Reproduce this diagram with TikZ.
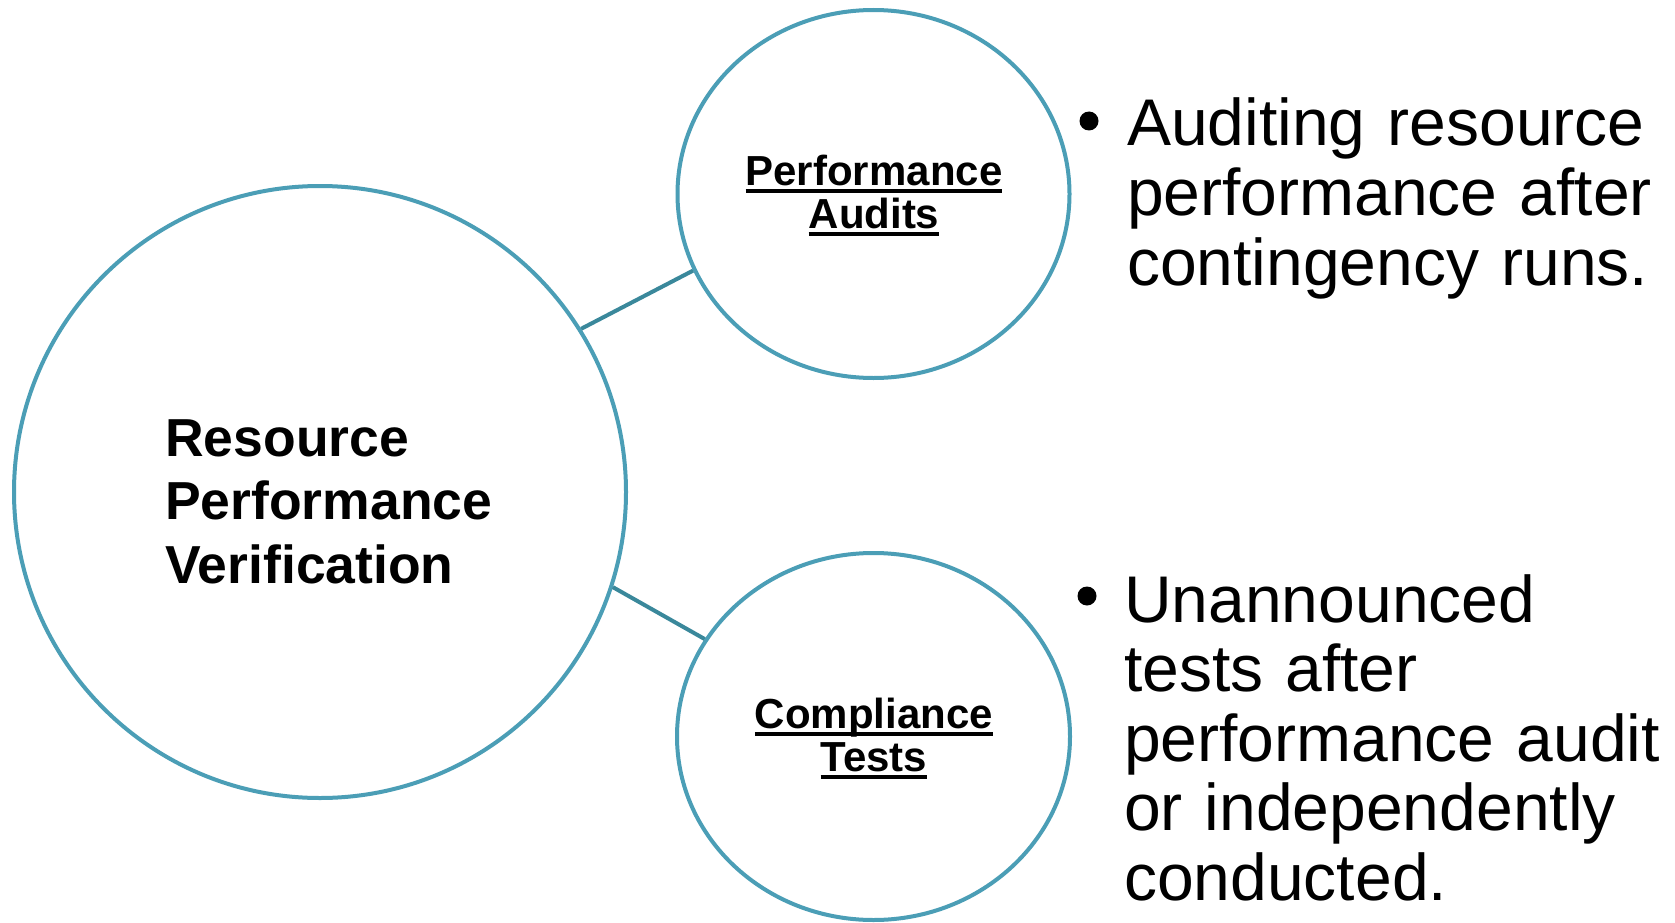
\documentclass[tikz,border=0pt]{standalone}
\usepackage{fontspec}
\setmainfont{Liberation Sans}
\usetikzlibrary{shapes.geometric}
\definecolor{ringblue}{RGB}{75,158,182}
\definecolor{linkblue}{RGB}{58,136,155}
\newsavebox{\ulwordbox}
\newcommand{\ulword}[1]{\leavevmode\sbox{\ulwordbox}{#1}\rlap{\rule[-8.3pt]{\wd\ulwordbox}{4pt}}\usebox{\ulwordbox}}
\tikzset{
  ring/.style={draw=ringblue, line width=4pt, fill=white, inner sep=0pt},
  bigring/.style={ring, circle, minimum size=612pt},
  smallring/.style={ring, ellipse, minimum width=392pt, minimum height=368pt},
  link/.style={draw=linkblue, line width=4pt},
  maintext/.style={inner sep=0pt, anchor=base west, align=left, text width=400pt,
    font=\fontsize{53.5}{63.5}\selectfont\bfseries},
  subtext/.style={inner sep=0pt, anchor=base, align=center, text width=300pt,
    font=\fontsize{42}{43}\selectfont\bfseries},
  bullettext/.style={inner sep=0pt, anchor=base west, align=left, text width=700pt,
    font=\fontsize{66}{69.5}\selectfont},
  dot/.style={circle, fill=black, inner sep=0pt, minimum size=19pt}
}
\begin{document}
\begin{tikzpicture}[x=1pt,y=-1pt]
\useasboundingbox (0,0) rectangle (1675,923);
\node[bigring] (main) at (320,492) {};
\node[smallring] (audit) at (873.5,194) {};
\node[smallring, minimum width=393pt, minimum height=367pt] (comp) at (873.5,736.5) {};
\draw[link] (main.32.9) -- (audit.203.6);
\draw[link] (main.-18.6) -- (comp.150.5);
\node[maintext] (maint) at (165,456) {Resource\\Performance\\Verification};
\node[subtext] (auditt) at (874,185) {\ulword{Performance}\\\ulword{Audits}};
\node[subtext] (compt) at (874,728) {\ulword{Compliance}\\\ulword{Tests}};
\node[dot] (b1) at (1089,121) {};
\node[bullettext] (t1) at (1127,146) {Auditing resource\\performance after\\contingency runs.};
\node[dot] (b2) at (1087,596) {};
\node[bullettext] (t2) at (1124,622) {Unannounced\\tests after\\performance audit\\or independently\\conducted.};
\end{tikzpicture}
\end{document}
